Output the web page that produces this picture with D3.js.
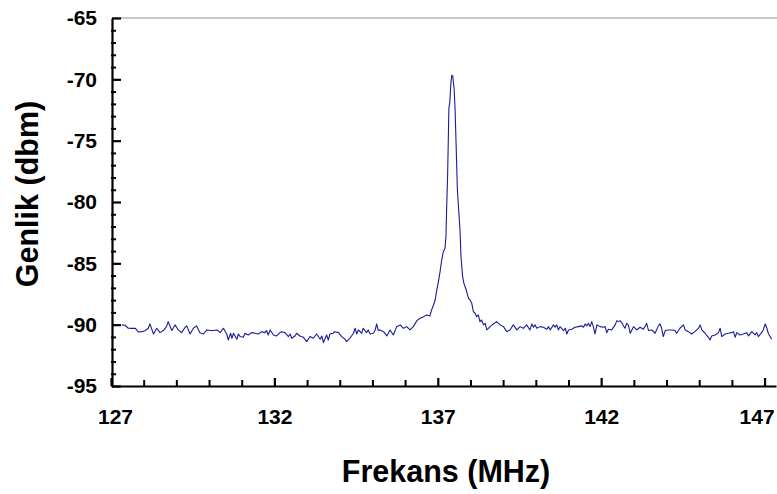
<!DOCTYPE html>
<html>
<head>
<meta charset="utf-8">
<script src="https://cdn.jsdelivr.net/npm/d3@7/dist/d3.min.js"></script>
<style>
  html, body { margin: 0; padding: 0; background: #fff; }
  svg { display: block; }
  text { font-family: "Liberation Sans", Arial, sans-serif; font-weight: bold; fill: #000; }
</style>
</head>
<body>
<svg id="chart" width="777" height="494"></svg>
<script>
// ---- data ----
const frequencies = [
  127.33,127.43,127.53,127.63,127.74,127.84,127.94,128.04,128.14,128.19,128.30,128.40,128.50,128.60,128.70,128.75,128.86,128.96,
  129.06,129.16,129.27,129.32,129.42,129.52,129.62,129.72,129.83,129.93,130.03,130.13,130.24,130.34,130.44,130.54,130.59,130.66,
  130.70,130.75,130.85,130.90,130.95,131.05,131.10,131.20,
  131.30,131.41,131.51,131.61,131.71,131.76,131.81,131.87,131.97,132.07,132.17,132.22,132.32,132.43,132.48,132.53,132.63,132.68,
  132.78,132.89,132.99,133.09,133.19,133.29,133.40,133.45,133.50,133.60,133.65,133.70,133.80,133.85,133.96,134.06,134.16,134.21,
  134.31,134.42,134.47,134.52,134.57,134.67,134.72,134.82,134.87,134.93,135.03,135.08,135.13,135.18,
  135.23,135.34,135.44,135.54,135.64,135.74,135.85,135.95,136.05,136.15,136.25,136.36,136.46,136.56,136.66,136.76,136.81,136.87,
  136.92,136.97,137.02,137.07,137.12,137.17,137.22,137.25,137.27,137.30,137.32,137.34,137.37,137.40,137.43,137.46,137.48,137.50,
  137.53,137.56,137.60,137.64,137.68,137.71,137.76,137.80,137.87,137.94,137.99,138.04,138.09,138.14,138.19,138.24,138.29,138.34,
  138.40,138.45,138.50,138.55,138.60,138.70,138.80,138.91,139.01,139.11,139.21,139.31,139.42,139.52,139.62,139.72,139.82,
  139.88,139.93,139.98,140.03,140.13,140.23,140.34,140.39,140.44,140.54,140.59,140.64,140.69,140.74,140.85,140.90,140.95,141.00,
  141.10,141.20,141.30,141.41,141.46,141.51,141.56,141.61,141.66,141.71,141.76,141.81,141.87,141.97,142.07,142.12,142.17,142.22,
  142.32,142.43,142.48,142.53,142.58,142.63,142.68,142.73,142.78,142.83,142.89,142.94,142.99,143.09,143.19,143.29,
  143.34,143.39,143.45,143.55,143.65,143.75,143.80,143.85,143.90,143.96,144.06,144.16,144.26,144.31,144.41,144.52,144.57,144.67,
  144.77,144.87,144.98,145.03,145.08,145.18,145.28,145.33,145.38,145.49,145.59,145.64,145.69,145.79,145.89,146.00,146.05,146.10,
  146.15,146.25,146.35,146.45,146.51,146.61,146.71,146.76,146.81,146.91,146.96,147.02,147.07,147.12,147.17,147.22
];
const amplitudes = [
  -90.02,-90.05,-90.29,-90.30,-90.29,-90.60,-90.57,-90.50,-90.29,-89.94,-90.76,-90.29,-90.65,-90.48,-90.16,-89.75,-90.48,-90.02,
  -90.43,-90.65,-90.21,-90.10,-90.76,-90.29,-90.10,-90.65,-90.76,-90.43,-90.48,-90.48,-90.43,-90.65,-90.29,-90.76,-91.25,-90.70,
  -91.11,-90.70,-91.19,-90.76,-90.97,-91.03,-90.70,-90.84,
  -90.65,-90.70,-90.76,-90.57,-90.65,-90.48,-90.84,-90.43,-90.84,-90.92,-90.65,-90.57,-90.65,-90.97,-90.76,-91.11,-90.92,-90.70,
  -90.92,-91.03,-91.38,-90.97,-91.11,-90.76,-91.19,-90.92,-91.46,-90.84,-91.25,-90.76,-90.70,-90.57,-90.65,-90.97,-91.19,-91.38,
  -91.11,-90.70,-90.29,-90.76,-90.43,-90.70,-90.29,-90.65,-90.43,-90.76,-90.70,-90.48,-89.94,-90.48,
  -90.43,-90.57,-90.92,-90.43,-90.84,-90.16,-90.02,-90.30,-90.16,-90.43,-90.16,-89.67,-89.48,-89.35,-89.21,-89.29,-88.80,-88.40,
  -87.99,-87.17,-86.49,-85.68,-84.73,-84.05,-83.78,-82.83,-80.65,-77.93,-75.22,-72.36,-71.82,-70.33,-69.65,-69.73,-70.33,-70.73,
  -72.50,-75.22,-79.02,-80.65,-82.28,-84.46,-86.08,-86.63,-87.17,-87.85,-87.99,-88.26,-88.94,-89.07,-89.35,-89.21,-89.75,-89.62,
  -90.02,-89.89,-90.43,-90.30,-90.16,-89.94,-89.75,-90.02,-90.16,-90.57,-90.43,-90.02,-90.43,-90.16,-90.30,-90.02,-90.43,
  -89.94,-90.21,-90.02,-90.29,-90.16,-90.21,-90.38,-90.16,-90.43,-90.02,-90.21,-90.02,-90.43,-90.16,-90.48,-90.29,-90.76,-90.43,
  -90.38,-90.21,-90.16,-90.10,-90.21,-89.94,-90.10,-89.89,-90.16,-89.75,-90.16,-90.76,-90.02,-90.16,-90.21,-90.16,-90.65,-90.38,
  -90.43,-90.02,-89.67,-89.75,-89.67,-89.83,-90.10,-90.29,-89.89,-90.02,-90.70,-90.43,-90.16,-90.43,-90.21,-90.38,
  -90.16,-89.89,-90.48,-90.43,-90.70,-90.10,-89.94,-90.29,-90.97,-90.48,-90.43,-90.43,-90.48,-90.70,-90.29,-90.02,-90.43,-90.57,
  -90.76,-90.57,-90.29,-90.02,-90.43,-90.70,-91.03,-91.25,-90.92,-90.84,-90.65,-90.29,-90.97,-90.76,-90.70,-90.65,-90.57,-91.03,
  -90.65,-90.84,-90.76,-90.65,-90.92,-90.57,-90.84,-90.65,-90.97,-90.65,-90.43,-89.94,-90.29,-90.76,-90.97,-91.19
];
const xTickValues = [127, 132, 137, 142, 147];
const xMinorTicks = [128,129,130,131,133,134,135,136,138,139,140,141,143,144,145,146];
const yTickValues = [-95, -90, -85, -80, -75, -70, -65];
const yMinorTicks = [-94,-93,-92,-91,-89,-88,-87,-86,-84,-83,-82,-81,-79,-78,-77,-76,-74,-73,-72,-71,-69,-68,-67,-66];
const xTitle = "Frekans (MHz)";
const yTitle = "Genlik (dbm)";

// ---- layout ----
const svg = d3.select("#chart");
const x = d3.scaleLinear().domain([127, 147.35]).range([111, 776]);
const y = d3.scaleLinear().domain([-95, -65]).range([386, 18]);
const FONT = "Liberation Sans, Arial, sans-serif";

// top border
svg.append("line")
  .attr("x1", 112).attr("x2", 777).attr("y1", y(-65)).attr("y2", y(-65))
  .attr("stroke", "#b4b4b4").attr("stroke-width", 1.5);

// trace
const pts = frequencies.map((f, i) => [f, amplitudes[i]]);
svg.append("path")
  .datum(pts)
  .attr("fill", "none")
  .attr("stroke", "#1b1b9c")
  .attr("stroke-width", 1.1)
  .attr("stroke-linejoin", "round")
  .attr("d", d3.line().x(d => x(d[0])).y(d => y(d[1])));

// minor ticks
svg.append("g").attr("transform", `translate(${x.range()[0]},0)`)
  .call(d3.axisLeft(y).tickValues(yMinorTicks).tickSize(-5).tickSizeOuter(0).tickFormat(""))
  .call(g => g.select(".domain").remove())
  .call(g => g.selectAll("line").attr("stroke", "#000").attr("stroke-width", 2));
svg.append("g").attr("transform", `translate(0,${y.range()[0]})`)
  .call(d3.axisBottom(x).tickValues(xMinorTicks).tickSize(-6).tickSizeOuter(0).tickFormat(""))
  .call(g => g.select(".domain").remove())
  .call(g => g.selectAll("line").attr("stroke", "#000").attr("stroke-width", 2));

// major axes
const yAxis = svg.append("g").attr("transform", `translate(${x.range()[0] + 1},0)`)
  .call(d3.axisLeft(y).tickValues(yTickValues).tickSize(-9).tickSizeOuter(0).tickPadding(15).tickFormat(d => String(d)));
yAxis.select(".domain").attr("stroke", "#000").attr("stroke-width", 2.2);
yAxis.selectAll("line").attr("stroke", "#000").attr("stroke-width", 2.2);
yAxis.selectAll("text").attr("font-size", 21).attr("font-family", FONT).attr("font-weight", "bold").attr("fill", "#000");

const xAxis = svg.append("g").attr("transform", `translate(0,${y.range()[0]})`)
  .call(d3.axisBottom(x).tickValues(xTickValues).tickSize(-8).tickSizeOuter(0).tickPadding(23).tickFormat(d => String(d)));
xAxis.select(".domain").attr("stroke", "#000").attr("stroke-width", 2.2);
xAxis.selectAll("line").attr("stroke", "#000").attr("stroke-width", 2.2);
xAxis.selectAll("text").attr("font-size", 21).attr("font-family", FONT).attr("font-weight", "bold").attr("fill", "#000")
  .attr("dx", d => d === 147 ? -8 : (d === 127 ? 4 : 0));

// titles
svg.append("text")
  .attr("x", 446).attr("y", 482)
  .attr("text-anchor", "middle")
  .attr("font-size", 30.5)
  .text(xTitle);
svg.append("text")
  .attr("transform", "translate(38,194) rotate(-90)")
  .attr("text-anchor", "middle")
  .attr("font-size", 30.5)
  .text(yTitle);
</script>
</body>
</html>
